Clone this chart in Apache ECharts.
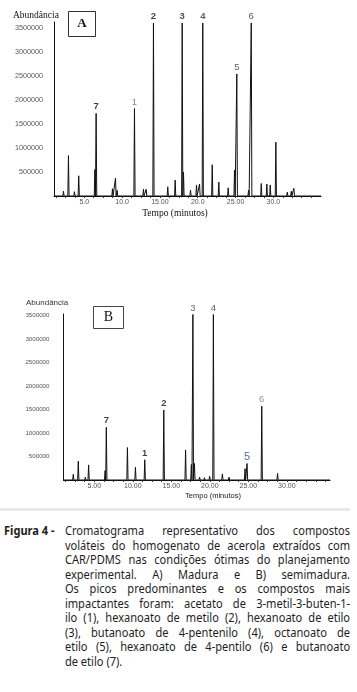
<!DOCTYPE html>
<html>
<head>
<meta charset="utf-8">
<script src="https://cdn.jsdelivr.net/npm/echarts@6.0.0/dist/echarts.min.js"></script>
<style>
  html, body { margin: 0; padding: 0; background: #fff; }
  #page { position: relative; width: 357px; height: 692px; overflow: hidden; }
  #chart { position: absolute; left: 0; top: 0; width: 357px; height: 505px; }
  #rule { position: absolute; left: 0; top: 508px; width: 350px; height: 3px; background: #e9e9e9; }
  #caption { position: absolute; left: 4px; top: 523px; width: 412px; display: flex;
             transform: scaleX(0.84); transform-origin: 0 0;
             font-family: "Noto Sans", sans-serif; font-size: 13.2px; line-height: 14.5px; color: #1e1e1e; }
  #caption .lead { flex: 0 0 72.5px; font-weight: bold; white-space: nowrap; }
  #caption .body { flex: 1 1 auto; }
  #caption .ln { text-align: justify; text-align-last: justify; }
  #caption .ln.last { text-align: left; text-align-last: left; }
</style>
</head>
<body>
<div id="page">
  <div id="chart"></div>
  <div id="rule"></div>
  <div id="caption">
    <div class="lead">Figura 4 -</div>
    <div class="body">
      <div class="ln">Cromatograma representativo dos compostos</div>
      <div class="ln">voláteis do homogenato de acerola extraídos com</div>
      <div class="ln">CAR/PDMS nas condições ótimas do planejamento</div>
      <div class="ln">experimental. A) Madura e B) semimadura.</div>
      <div class="ln">Os picos predominantes e os compostos mais</div>
      <div class="ln">impactantes foram: acetato de 3-metil-3-buten-1-</div>
      <div class="ln">ilo (1), hexanoato de metilo (2), hexanoato de etilo</div>
      <div class="ln">(3), butanoato de 4-pentenilo (4), octanoato de</div>
      <div class="ln">etilo (5), hexanoato de 4-pentilo (6) e butanoato</div>
      <div class="ln last">de etilo (7).</div>
    </div>
  </div>
</div>
<script>
var peaksA = [
  [2.25, 100000], [2.91, 840000], [3.70, 90000], [4.27, 420000], [6.40, 550000],
  [6.57, 1720000], [8.73, 150000], [9.13, 370000], [9.35, 120000], [11.64, 1820000],
  [12.83, 140000], [13.19, 140000], [14.15, 3600000], [16.04, 190000], [17.02, 330000],
  [17.95, 3600000], [18.12, 500000], [19.05, 120000], [19.84, 230000], [20.24, 250000],
  [20.67, 3600000], [21.92, 650000], [22.79, 290000], [24.03, 170000], [24.87, 540000],
  [25.17, 2540000], [26.72, 120000], [27.08, 3600000], [28.40, 260000], [29.14, 250000],
  [29.59, 230000], [30.33, 1120000], [31.84, 80000], [32.37, 100000], [32.71, 160000]
];
var peaksB = [
  [2.27, 120000], [2.92, 400000], [3.83, 60000], [4.26, 320000], [6.40, 200000],
  [6.56, 1120000], [9.30, 690000], [10.34, 270000], [11.55, 430000], [12.68, 40000],
  [14.02, 1490000], [16.85, 640000], [17.60, 330000], [17.80, 3520000], [18.00, 350000],
  [18.67, 60000], [19.30, 50000], [19.97, 80000], [20.46, 3520000], [21.63, 130000],
  [22.49, 60000], [24.57, 240000], [24.83, 350000], [26.74, 1570000], [28.79, 140000],
  [30.00, 30000]
];
// rótulos dos picos: [nome, tempo]
var labelsA = [['7', 6.57], ['1', 11.64], ['2', 14.15], ['3', 17.95], ['4', 20.67], ['5', 25.17], ['6', 27.08]];
var labelsB = [['7', 6.56], ['1', 11.55], ['2', 14.02], ['3', 17.80], ['4', 20.46], ['5', 24.83], ['6', 26.74]];

var xTicks = [5, 10, 15, 20, 25, 30];
var xTickLabelsA = ['5.0', '10.0', '15.00', '20.0', '25.00', '30.0'];
var xTickLabelsB = ['5.00', '10.00', '15.00', '20.00', '25.00', '30.00'];
var yTicks = [500000, 1000000, 1500000, 2000000, 2500000, 3000000, 3500000];
var minorTicks = [];
for (var m = 1.25; m <= 36; m += 1.25) { minorTicks.push(m); }

var labelStyleA = {
  '1': { color: '#666', fontWeight: 'normal' },
  '2': { color: '#111', fontWeight: 'bold' },
  '3': { color: '#222', fontWeight: 'bold' },
  '4': { color: '#333', fontWeight: 'bold' },
  '5': { color: '#333', fontWeight: 'normal' },
  '6': { color: '#333', fontWeight: 'normal' },
  '7': { color: '#111', fontWeight: 'bold' }
};
var labelStyleB = {
  '1': { color: '#111', fontWeight: 'bold' },
  '2': { color: '#111', fontWeight: 'bold' },
  '3': { color: '#444', fontWeight: 'normal' },
  '4': { color: '#333', fontWeight: 'normal' },
  '5': { color: '#2d4676', fontWeight: 'normal', fontSize: 11 },
  '6': { color: '#777', fontWeight: 'normal' },
  '7': { color: '#111', fontWeight: 'bold' }
};

var HALF = 0.08; // meia largura da base de cada pico

function buildTrace(peaks, xMin, xMax) {
  var pts = [[xMin, 0]];
  peaks.forEach(function (p) {
    pts.push([p[0] - HALF, 0], [p[0], p[1]], [p[0] + HALF, 0]);
  });
  pts.push([xMax, 0]);
  return pts;
}

function buildLabels(labels, peaks, styles) {
  return labels.map(function (l) {
    var h = 0;
    peaks.forEach(function (p) { if (p[0] === l[1]) { h = p[1]; } });
    var st = styles[l[0]];
    return {
      value: [l[1], h],
      label: {
        show: true, position: 'top', distance: 1, formatter: l[0],
        color: st.color, fontWeight: st.fontWeight, fontSize: st.fontSize || 9.5,
        fontFamily: 'Liberation Sans'
      }
    };
  });
}

function xAxisFor(idx, min, max, names) {
  return {
    type: 'value', gridIndex: idx, min: min, max: max,
    axisLine: { show: true, onZero: false, lineStyle: { color: '#111', width: 1 } },
    axisTick: { show: true, customValues: minorTicks, length: 2, lineStyle: { color: '#333' } },
    axisLabel: {
      customValues: xTicks, margin: 3, fontSize: 7, color: '#555', fontFamily: 'Liberation Sans',
      formatter: function (v) { var i = xTicks.indexOf(v); return i >= 0 ? names[i] : ''; }
    },
    splitLine: { show: false }
  };
}

function yAxisFor(idx, max, size, margin) {
  return {
    type: 'value', gridIndex: idx, min: 0, max: max,
    axisLine: { show: true, lineStyle: { color: '#111', width: 1 } },
    axisTick: { show: false },
    axisLabel: {
      customValues: yTicks, margin: margin, fontSize: size, color: '#555', fontFamily: 'Liberation Sans',
      formatter: function (v) { return String(v); }
    },
    splitLine: { show: false }
  };
}

var chart = echarts.init(document.getElementById('chart'), null, { renderer: 'canvas' });

chart.setOption({
  animation: false,
  backgroundColor: '#fff',
  grid: [
    { left: 54, top: 22, width: 267, height: 174 },
    { left: 63.5, top: 314, width: 266.5, height: 166 }
  ],
  xAxis: [xAxisFor(0, 1, 36.3, xTickLabelsA), xAxisFor(1, 1, 35.6, xTickLabelsB)],
  yAxis: [yAxisFor(0, 3620000, 7.2, 11), yAxisFor(1, 3530000, 6.2, 14)],
  series: [
    {
      type: 'line', xAxisIndex: 0, yAxisIndex: 0, data: buildTrace(peaksA, 1, 36.3),
      symbol: 'none', lineStyle: { color: '#111', width: 1 }, clip: true
    },
    {
      type: 'line', xAxisIndex: 1, yAxisIndex: 1, data: buildTrace(peaksB, 1, 35.6),
      symbol: 'none', lineStyle: { color: '#111', width: 1 }, clip: true
    },
    {
      type: 'scatter', xAxisIndex: 0, yAxisIndex: 0, symbolSize: 1,
      itemStyle: { color: 'rgba(0,0,0,0)' }, data: buildLabels(labelsA, peaksA, labelStyleA)
    },
    {
      type: 'scatter', xAxisIndex: 1, yAxisIndex: 1, symbolSize: 1,
      itemStyle: { color: 'rgba(0,0,0,0)' }, data: buildLabels(labelsB, peaksB, labelStyleB)
    }
  ],
  graphic: [
    { type: 'text', left: 13, top: 10, style: { text: 'Abundância', font: '9.5px "Liberation Serif"', fill: '#111' } },
    { type: 'rect', shape: { x: 68.5, y: 11.5, width: 27, height: 25 }, style: { fill: 'none', stroke: '#333', lineWidth: 1 } },
    { type: 'text', x: 82, y: 24, style: { text: 'A', font: 'bold 13px "Liberation Serif"', fill: '#111', align: 'center', verticalAlign: 'middle' } },
    { type: 'text', x: 175, y: 213, style: { text: 'Tempo (minutos)', font: '9.5px "Liberation Serif"', fill: '#111', align: 'center', verticalAlign: 'middle' } },
    { type: 'text', left: 26, top: 299, style: { text: 'Abundância', font: '8px "Liberation Sans"', fill: '#333' } },
    { type: 'rect', shape: { x: 93.5, y: 306.5, width: 30, height: 22 }, style: { fill: 'none', stroke: '#444', lineWidth: 1 } },
    { type: 'text', x: 108.5, y: 317.5, style: { text: 'B', font: '14px "Liberation Serif"', fill: '#111', align: 'center', verticalAlign: 'middle' } },
    { type: 'text', x: 213, y: 496, style: { text: 'Tempo (minutos)', font: '7.5px "Liberation Sans"', fill: '#222', align: 'center', verticalAlign: 'middle' } }
  ]
});
</script>
</body>
</html>
